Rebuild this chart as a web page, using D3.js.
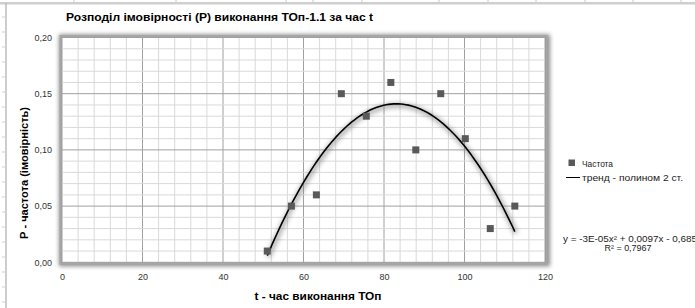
<!DOCTYPE html>
<html>
<head>
<meta charset="utf-8">
<script src="https://cdn.jsdelivr.net/npm/d3@7"></script>
<style>
  body { margin: 0; background: #fff; }
  svg { display: block; font-family: "Liberation Sans", Arial, sans-serif; }
</style>
</head>
<body>
<div id="chart"></div>
<script>
// values
const tValues = [51, 57, 63.2, 69.4, 75.6, 81.7, 87.9, 94.1, 100.2, 106.4, 112.5];
const pValues = [0.01, 0.05, 0.06, 0.15, 0.13, 0.16, 0.10, 0.15, 0.11, 0.03, 0.05];
const xTicks = [0, 20, 40, 60, 80, 100, 120];
const yTicks = [0, 0.05, 0.10, 0.15, 0.20];
const legendLabels = ["Частота", "тренд - полином 2 ст."];
const eqLines = ["y = -3E-05x² + 0,0097x - 0,685", "R² = 0,7967"];

const W = 695, H = 308;
const plot = {left: 62, top: 37.5, right: 545, bottom: 262.3};

const svg = d3.select("#chart").append("svg").attr("width", W).attr("height", H);

const defs = svg.append("defs");
defs.append("filter").attr("id", "frameShadow").attr("x", "-10%").attr("y", "-10%").attr("width", "120%").attr("height", "120%")
  .append("feGaussianBlur").attr("stdDeviation", 2.2);
defs.append("filter").attr("id", "lineGlow").attr("x", "-20%").attr("y", "-20%").attr("width", "140%").attr("height", "140%")
  .append("feGaussianBlur").attr("stdDeviation", 2.5);

// spreadsheet bits around the chart
svg.append("rect").attr("x", 0).attr("y", 2).attr("width", W).attr("height", 2.5).attr("fill", "#cfcfcf");
[74, 176, 286, 313, 362, 439, 488, 536, 585, 633, 681].forEach(x => {
  svg.append("line").attr("x1", x).attr("x2", x).attr("y1", 0).attr("y2", 2).attr("stroke", "#c8c8c8");
});
svg.append("line").attr("x1", 6).attr("x2", 6).attr("y1", 3).attr("y2", H).attr("stroke", "#bdbdbd").attr("stroke-width", 1.5);
d3.range(17, H, 15).forEach(y => {
  svg.append("line").attr("x1", 2).attr("x2", 5).attr("y1", y).attr("y2", y).attr("stroke", "#cfcfcf");
});

const x = d3.scaleLinear().domain([0, 120]).range([plot.left, plot.right]);
const y = d3.scaleLinear().domain([0, 0.20]).range([plot.bottom, plot.top]);

// plot area frame with shadow
svg.append("rect")
  .attr("x", plot.left - 3).attr("y", plot.top - 3)
  .attr("width", plot.right - plot.left + 8).attr("height", plot.bottom - plot.top + 7)
  .attr("fill", "#8c8c8c").attr("filter", "url(#frameShadow)");
svg.append("rect")
  .attr("x", plot.left - 1.5).attr("y", plot.top - 1.5)
  .attr("width", plot.right - plot.left + 3).attr("height", plot.bottom - plot.top + 3)
  .attr("fill", "none").attr("stroke", "#a6a6a6").attr("stroke-width", 2);
svg.append("rect")
  .attr("x", plot.left).attr("y", plot.top)
  .attr("width", plot.right - plot.left).attr("height", plot.bottom - plot.top)
  .attr("fill", "#fff");

// grid
const grid = svg.append("g");
grid.selectAll(".vminor").data(d3.range(0, 121, 4)).join("line")
  .attr("x1", d => x(d)).attr("x2", d => x(d)).attr("y1", plot.top).attr("y2", plot.bottom)
  .attr("stroke", d => d % 20 === 0 ? "#a0a0a0" : "#d9d9d9").attr("stroke-width", 1);
grid.selectAll(".hminor").data(d3.range(0, 21)).join("line")
  .attr("x1", plot.left).attr("x2", plot.right)
  .attr("y1", d => y(d / 100)).attr("y2", d => y(d / 100))
  .attr("stroke", d => d % 5 === 0 ? "#a0a0a0" : "#d9d9d9").attr("stroke-width", 1);

// axes labels (no axis lines)
const fmtY = d => d3.format(".2f")(d).replace(".", ",");
const xAxis = svg.append("g").attr("transform", `translate(0,${plot.bottom})`)
  .call(d3.axisBottom(x).tickValues(xTicks).tickSize(0).tickPadding(11));
const yAxis = svg.append("g").attr("transform", `translate(${plot.left},0)`)
  .call(d3.axisLeft(y).tickValues(yTicks).tickFormat(fmtY).tickSize(0).tickPadding(10));
[xAxis, yAxis].forEach(a => {
  a.select(".domain").remove();
  a.selectAll("text").attr("font-size", 9).attr("fill", "#333").attr("font-family", "Liberation Sans, Arial, sans-serif");
});

// quadratic least-squares trend from the points
function fitQuad(xs, ys) {
  const n = xs.length;
  let s = [0, 0, 0, 0, 0], t = [0, 0, 0];
  for (let i = 0; i < n; i++) {
    for (let k = 0; k < 5; k++) s[k] += Math.pow(xs[i], k);
    for (let k = 0; k < 3; k++) t[k] += ys[i] * Math.pow(xs[i], k);
  }
  const A = [[s[0], s[1], s[2], t[0]], [s[1], s[2], s[3], t[1]], [s[2], s[3], s[4], t[2]]];
  for (let i = 0; i < 3; i++) {
    for (let j = i + 1; j < 3; j++) {
      const f = A[j][i] / A[i][i];
      for (let k = i; k < 4; k++) A[j][k] -= f * A[i][k];
    }
  }
  const c = [0, 0, 0];
  for (let i = 2; i >= 0; i--) {
    let v = A[i][3];
    for (let k = i + 1; k < 3; k++) v -= A[i][k] * c[k];
    c[i] = v / A[i][i];
  }
  return c;
}
const coef = fitQuad(tValues, pValues);
const trendPts = d3.range(0, 101).map(i => {
  const tx = tValues[0] + (tValues[tValues.length - 1] - tValues[0]) * i / 100;
  return [tx, coef[0] + coef[1] * tx + coef[2] * tx * tx];
});
const line = d3.line().x(d => x(d[0])).y(d => y(d[1]));

svg.append("path").datum(trendPts).attr("d", line)
  .attr("fill", "none").attr("stroke", "#7a7a7a").attr("stroke-width", 4).attr("opacity", 0.7)
  .attr("transform", "translate(1,1.5)").attr("filter", "url(#lineGlow)");
svg.append("path").datum(trendPts).attr("d", line)
  .attr("fill", "none").attr("stroke", "#000").attr("stroke-width", 1.6);

// points
svg.selectAll(".pt").data(tValues.map((t, i) => [t, pValues[i]])).join("rect")
  .attr("class", "pt")
  .attr("x", d => x(d[0]) - 3.5).attr("y", d => y(d[1]) - 3.5)
  .attr("width", 7).attr("height", 7).attr("fill", "#595959");

// text helper: the original picture is stretched sideways, so fix widths
function label(txt, xPos, yPos, size, len, opts = {}) {
  const el = svg.append("text").attr("x", xPos).attr("y", yPos)
    .attr("font-size", size).attr("fill", opts.fill || "#000")
    .attr("font-weight", opts.bold ? "bold" : null)
    .attr("text-anchor", opts.anchor || "start")
    .attr("textLength", len).attr("lengthAdjust", "spacingAndGlyphs")
    .text(txt);
  if (opts.transform) el.attr("transform", opts.transform);
  return el;
}

// titles
label("Розподіл імовірності (Р) виконання ТОп-1.1 за час t", 219.5, 21, 11, 307, {bold: true, anchor: "middle"});
label("t - час виконання ТОп", 318, 300, 10.5, 127, {bold: true, anchor: "middle"});
label("Р - частота (імовірність)", 0, 0, 10.5, 132, {bold: true, anchor: "middle", transform: "translate(28,173) rotate(-90)"});

// legend
svg.append("rect").attr("x", 568.5).attr("y", 159.5).attr("width", 6.5).attr("height", 6.5).attr("fill", "#595959");
label(legendLabels[0], 582, 166.5, 9.5, 31, {fill: "#222"});
svg.append("line").attr("x1", 566).attr("x2", 580).attr("y1", 177.5).attr("y2", 177.5).attr("stroke", "#000").attr("stroke-width", 1);
label(legendLabels[1], 582, 181, 9.5, 101, {fill: "#222"});

// equation
label(eqLines[0], 563, 241.5, 8.5, 134, {fill: "#222"});
label(eqLines[1], 628, 250.5, 8.5, 47, {fill: "#222", anchor: "middle"});
</script>
</body>
</html>
